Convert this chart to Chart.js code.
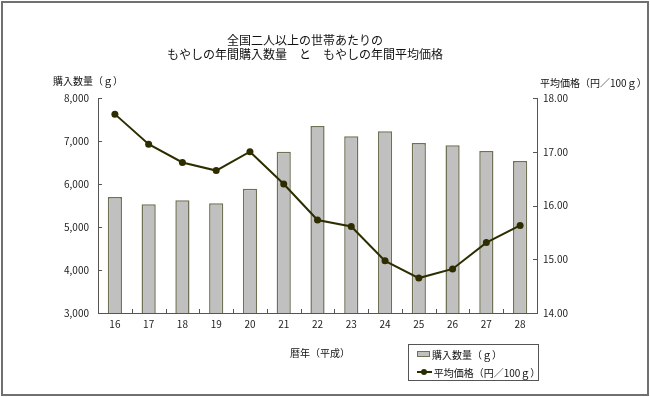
<!DOCTYPE html>
<html lang="ja">
<head>
<meta charset="UTF-8">
<title>もやしの年間購入数量と年間平均価格</title>
<script src="https://cdn.jsdelivr.net/npm/chart.js"></script>
<style>
  body { margin: 0; background: #fff; font-family: "Noto Sans CJK JP", sans-serif; color: #111; }
  #wrap { position: relative; width: 650px; height: 397px; overflow: hidden; }
  #frame { position: absolute; left: 1px; top: 1px; width: 648px; height: 395px; box-sizing: border-box; border: 2px solid #707070; pointer-events: none; }
  canvas { position: absolute; left: 0; top: 0; }
  .txt { position: absolute; white-space: nowrap; line-height: 1; }
  .title { font-size: 12px; left: 0; width: 610px; text-align: center; }
  .ax { font-size: 10px; }
  #legend { position: absolute; left: 408px; top: 344px; width: 131px; height: 37px; box-sizing: border-box; border: 1px solid #555; font-size: 10px; }
  #legend .row { position: absolute; left: 8px; height: 12px; display: flex; align-items: center; }
  .sw-bar { width: 11px; height: 4px; background: #c0c0c0; border: 1px solid #707055; margin-right: 2px; }
  .sw-line { position: relative; width: 15px; height: 2px; background: #2d2d00; margin-right: 2px; }
  .sw-line::after { content: ""; position: absolute; left: 4px; top: -2px; width: 6px; height: 6px; border-radius: 50%; background: #2d2d00; }
</style>
</head>
<body>
<div id="wrap">
  <canvas id="c" width="650" height="397"></canvas>
  <div class="txt title" style="top:34px">全国二人以上の世帯あたりの</div>
  <div class="txt title" style="top:48px">もやしの年間購入数量　と　もやしの年間平均価格</div>
  <div class="txt ax" style="left:53px; top:76px">購入数量（ｇ）</div>
  <div class="txt ax" style="left:540px; top:78px">平均価格（円／100ｇ）</div>
  <div class="txt ax" style="left:290px; top:348px">暦年（平成）</div>
  <div id="legend">
    <div class="row" style="top:3px"><span class="sw-bar"></span>購入数量（ｇ）</div>
    <div class="row" style="top:21px"><span class="sw-line"></span>平均価格（円／100ｇ）</div>
  </div>
  <div id="frame"></div>
</div>
<script>
const years = ['16', '17', '18', '19', '20', '21', '22', '23', '24', '25', '26', '27', '28'];
const quantity = [5700, 5530, 5620, 5550, 5890, 6750, 7350, 7110, 7225, 6955, 6900, 6770, 6535];
const price = [17.70, 17.14, 16.80, 16.65, 17.00, 16.40, 15.73, 15.61, 14.97, 14.65, 14.82, 15.31, 15.63];
const qtyTicks = [3000, 4000, 5000, 6000, 7000, 8000];
const priceTicks = [14, 15, 16, 17, 18];

const axisColor = '#555';
const tickFont = { family: 'Noto Sans CJK JP', size: 10 };

// small tick marks drawn inward, like the original
const innerTicks = {
  id: 'innerTicks',
  afterDatasetsDraw(chart) {
    const { ctx, scales: { x, yQty, yPrice } } = chart;
    ctx.save();
    ctx.strokeStyle = axisColor;
    ctx.lineWidth = 1;
    ctx.beginPath();
    qtyTicks.forEach(v => {
      const y = Math.round(yQty.getPixelForValue(v)) + 0.5;
      ctx.moveTo(x.left, y); ctx.lineTo(x.left + 4, y);
    });
    priceTicks.forEach(v => {
      const y = Math.round(yPrice.getPixelForValue(v)) + 0.5;
      ctx.moveTo(x.right - 4, y); ctx.lineTo(x.right, y);
    });
    for (let i = 0; i < years.length - 1; i++) {
      const px = Math.round((x.getPixelForTick(i) + x.getPixelForTick(i + 1)) / 2) + 0.5;
      ctx.moveTo(px, x.top); ctx.lineTo(px, x.top - 4);
    }
    ctx.stroke();
    ctx.restore();
  }
};

new Chart(document.getElementById('c'), {
  data: {
    labels: years,
    datasets: [
      {
        type: 'line',
        label: '平均価格（円／100ｇ）',
        data: price,
        yAxisID: 'yPrice',
        borderColor: '#2d2d00',
        backgroundColor: '#2d2d00',
        borderWidth: 2,
        pointRadius: 3.5,
        pointBackgroundColor: '#2d2d00',
        pointBorderWidth: 0,
        tension: 0,
        order: 0
      },
      {
        type: 'bar',
        label: '購入数量（ｇ）',
        data: quantity,
        yAxisID: 'yQty',
        backgroundColor: '#c0c0c0',
        borderColor: '#707055',
        borderWidth: 1.5,
        borderSkipped: 'bottom',
        categoryPercentage: 1,
        barPercentage: 0.42,
        order: 1
      }
    ]
  },
  options: {
    responsive: false,
    animation: false,
    events: [],
    layout: { padding: { top: 98, left: 0, right: 0, bottom: 0 } },
    plugins: { legend: { display: false }, tooltip: { enabled: false } },
    scales: {
      x: {
        grid: { display: false, drawTicks: false },
        border: { color: axisColor },
        ticks: { color: '#222', font: tickFont, padding: 5, maxRotation: 0 },
        afterFit(s) { s.height = 84; }
      },
      yQty: {
        position: 'left',
        min: 3000, max: 8000,
        afterBuildTicks(s) { s.ticks = qtyTicks.map(v => ({ value: v })); },
        grid: { display: false, drawTicks: false },
        border: { color: axisColor },
        ticks: {
          color: '#222', font: tickFont, padding: 9,
          callback: v => v.toLocaleString('en-US')
        },
        afterFit(s) { s.width = 98; }
      },
      yPrice: {
        position: 'right',
        min: 14, max: 18,
        afterBuildTicks(s) { s.ticks = priceTicks.map(v => ({ value: v })); },
        grid: { display: false, drawTicks: false },
        border: { color: axisColor },
        ticks: {
          color: '#222', font: tickFont, padding: 6,
          callback: v => v.toFixed(2)
        },
        afterFit(s) { s.width = 113; }
      }
    }
  },
  plugins: [innerTicks]
});
</script>
</body>
</html>
